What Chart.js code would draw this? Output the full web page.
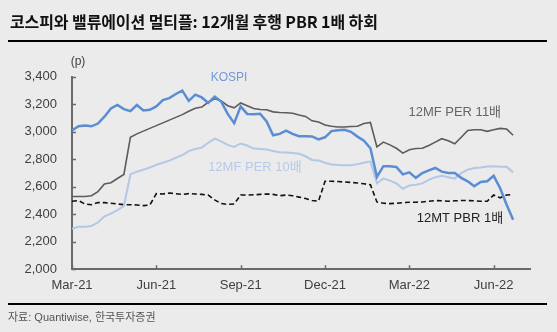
<!DOCTYPE html>
<html>
<head>
<meta charset="utf-8">
<script src="https://cdn.jsdelivr.net/npm/chart.js@4.4.1/dist/chart.umd.min.js"></script>
<style>
body { margin: 0; background: #ebebeb; }
#wrap { position: relative; width: 557px; height: 332px; background: #ebebeb; overflow: hidden; }
#title { position: absolute; left: 10px; top: 11px; font: bold 16px/20px 'Noto Sans CJK KR', sans-serif; color: #111; white-space: nowrap; letter-spacing: -0.1px; }
.rule { position: absolute; left: 8px; width: 539px; height: 2px; background: #000; }
#source { position: absolute; left: 8px; top: 310px; font: 11px/14px 'Liberation Sans', 'Noto Sans CJK KR', sans-serif; color: #555; white-space: nowrap; }
canvas { position: absolute; left: 0; top: 0; }
</style>
</head>
<body>
<div id="wrap">
  <canvas id="chart" width="557" height="332"></canvas>
  <div id="title">코스피와 밸류에이션 멀티플: 12개월 후행 PBR 1배 하회</div>
  <div class="rule" style="top:40px"></div>
  <div class="rule" style="top:303px"></div>
  <div id="source">자료: Quantiwise, 한국투자증권</div>
</div>
<script>
// weekly points, Mar-21 .. late Jun-22
const quarterLabels = ['Mar-21', 'Jun-21', 'Sep-21', 'Dec-21', 'Mar-22', 'Jun-22'];
const quarterWeeks = [0, 13, 26, 39, 52, 65];

const kospi = [3010, 3040, 3045, 3040, 3060, 3110, 3170, 3195, 3165, 3150,
  3195, 3155, 3160, 3185, 3230, 3245, 3275, 3300, 3225, 3270,
  3250, 3210, 3255, 3220, 3130, 3063, 3185, 3130, 3128, 3131,
  3075, 2975, 2985, 3008, 2985, 2968, 2968, 2966, 2945, 2960,
  3005, 3012, 3015, 3000, 2965, 2935, 2880, 2672, 2750, 2750,
  2744, 2690, 2705, 2665, 2700, 2720, 2737, 2710, 2700, 2700,
  2665, 2640, 2604, 2635, 2640, 2680, 2590, 2470, 2360];

const per11 = [2530, 2530, 2530, 2535, 2565, 2620, 2630, 2660, 2690, 2960,
  2985, 3005, 3025, 3045, 3065, 3085, 3105, 3125, 3150, 3172,
  3180, 3215, 3240, 3225, 3190, 3174, 3210, 3190, 3170, 3162,
  3160, 3145, 3140, 3138, 3135, 3122, 3112, 3080, 3072, 3050,
  3040, 3035, 3035, 3038, 3040, 3060, 3068, 2890, 2925, 2905,
  2880, 2845, 2870, 2878, 2880, 2900, 2925, 2950, 2935, 2913,
  2960, 3010, 3015, 3015, 3003, 3015, 3025, 3020, 2975];

const per10 = [2295, 2310, 2310, 2315, 2340, 2385, 2405, 2430, 2460, 2690,
  2710, 2725, 2740, 2760, 2775, 2790, 2810, 2830, 2860, 2875,
  2885, 2920, 2950, 2930, 2905, 2890, 2915, 2900, 2878, 2875,
  2872, 2860, 2852, 2850, 2846, 2840, 2822, 2795, 2792, 2775,
  2762, 2758, 2756, 2756, 2765, 2775, 2785, 2625, 2660, 2645,
  2625, 2585, 2610, 2615, 2625, 2650, 2670, 2680, 2670, 2660,
  2700, 2725, 2737, 2740, 2748, 2750, 2745, 2745, 2705];

const pbr1 = [2495, 2500, 2475, 2470, 2485, 2485, 2480, 2475, 2470, 2470,
  2468, 2463, 2468, 2550, 2548, 2555, 2550, 2545, 2550, 2548,
  2545, 2540, 2505, 2478, 2472, 2475, 2540, 2540, 2542, 2545,
  2548, 2545, 2535, 2540, 2535, 2525, 2515, 2500, 2495, 2640,
  2640, 2638, 2635, 2632, 2628, 2622, 2615, 2490, 2480, 2478,
  2480, 2485, 2488, 2488, 2490, 2495, 2500, 2498, 2495, 2498,
  2500, 2500, 2498, 2495, 2495, 2540, 2520, 2540, 2545];

// in-chart series names, anchored in data units
const seriesNames = [
  { text: 'KOSPI', week: 24.2, value: 3394, color: '#6e9bd9', size: 12 },
  { text: '12MF PER 11배', week: 59, value: 3140, color: '#666666', size: 13 },
  { text: '12MF PER 10배', week: 28.2, value: 2742, color: '#b7cbe8', size: 13 },
  { text: '12MT PBR 1배', week: 59.8, value: 2372, color: '#222222', size: 13 }
];

const axisColor = '#6a6a6a';
const fontFamily = "'Liberation Sans', Arial, 'Noto Sans CJK KR', sans-serif";

const toPoints = arr => arr.map((v, i) => ({ x: i, y: v }));

const extras = {
  id: 'extras',
  afterDraw(chart) {
    const c = chart.ctx;
    const xs = chart.scales.x, ys = chart.scales.y;
    const area = chart.chartArea;
    c.save();
    // inward tick marks
    c.strokeStyle = axisColor;
    c.lineWidth = 1.5;
    c.beginPath();
    ys.ticks.forEach(t => {
      const y = Math.round(ys.getPixelForValue(t.value)) + 0.5;
      c.moveTo(area.left, y);
      c.lineTo(area.left + 4, y);
    });
    xs.ticks.forEach(t => {
      const x = Math.round(xs.getPixelForValue(t.value)) + 0.5;
      c.moveTo(x, area.bottom);
      c.lineTo(x, area.bottom - 4);
    });
    c.stroke();
    // unit
    c.fillStyle = '#404040';
    c.font = '12px ' + fontFamily;
    c.textAlign = 'center';
    c.textBaseline = 'middle';
    c.fillText('(p)', area.left + 6, area.top - 15);
    // series names
    seriesNames.forEach(s => {
      c.fillStyle = s.color;
      c.font = s.size + 'px ' + fontFamily;
      c.fillText(s.text, xs.getPixelForValue(s.week), ys.getPixelForValue(s.value));
    });
    c.restore();
  }
};

new Chart(document.getElementById('chart'), {
  type: 'line',
  data: {
    datasets: [
      { label: 'KOSPI', data: toPoints(kospi), borderColor: '#5a8dd3', borderWidth: 2.5 },
      { label: '12MF PER 11배', data: toPoints(per11), borderColor: '#5c5c5c', borderWidth: 1.6 },
      { label: '12MF PER 10배', data: toPoints(per10), borderColor: '#b3c7e6', borderWidth: 2 },
      { label: '12MT PBR 1배', data: toPoints(pbr1), borderColor: '#111111', borderWidth: 1.6, borderDash: [5, 3] }
    ]
  },
  options: {
    responsive: false,
    animation: false,
    events: [],
    elements: { point: { radius: 0 }, line: { tension: 0, fill: false } },
    layout: { padding: { top: 76.8, right: 27, bottom: 0, left: 0 } },
    plugins: { legend: { display: false }, tooltip: { enabled: false } },
    scales: {
      x: {
        type: 'linear',
        min: 0,
        max: 70.6,
        afterBuildTicks: s => { s.ticks = quarterWeeks.map(v => ({ value: v })); },
        afterFit: s => { s.height = 62.7; },
        grid: { display: false, drawTicks: false },
        border: { color: axisColor, width: 2 },
        ticks: {
          callback: v => quarterLabels[quarterWeeks.indexOf(v)],
          autoSkip: false,
          maxRotation: 0,
          padding: 8,
          color: '#404040',
          font: { size: 13, family: fontFamily }
        }
      },
      y: {
        min: 2000,
        max: 3400,
        afterFit: s => { s.width = 72; },
        grid: { display: false, drawTicks: false },
        border: { color: axisColor, width: 2 },
        ticks: {
          stepSize: 200,
          callback: v => v.toLocaleString('en-US'),
          padding: 15,
          color: '#404040',
          font: { size: 13, family: fontFamily }
        }
      }
    }
  },
  plugins: [extras]
});
</script>
</body>
</html>
